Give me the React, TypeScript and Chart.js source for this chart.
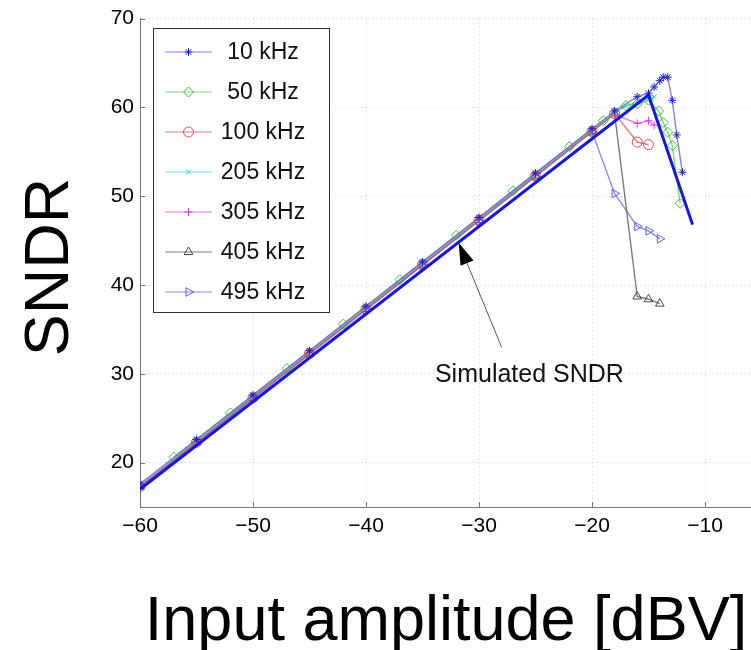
import React, { useEffect, useRef } from 'react';
import { Chart, registerables } from 'chart.js';
import { drawPoint } from 'chart.js/helpers';

Chart.register(...registerables);

// ---- axes ----
const X_TICKS = [-60, -50, -40, -30, -20, -10];
const Y_TICKS = [20, 30, 40, 50, 60, 70];
const X_MIN = -60;
const X_MAX = -5.93;
const Y_MIN = 15;
const Y_MAX = 70;

// ---- measured series ----
const LABELS = ['10 kHz', '50 kHz', '100 kHz', '205 kHz', '305 kHz', '405 kHz', '495 kHz'];

const F10_X = [-60, -55, -50, -45, -40, -35, -30, -25, -20, -18, -16, -15, -14.5, -14, -13.7, -13.3, -12.9, -12.5, -12];
const F10_Y = [17.6, 22.6, 27.6, 32.6, 37.6, 42.6, 47.6, 52.6, 57.6, 59.6, 61.2, 61.6, 62.3, 63.0, 63.4, 63.4, 60.8, 56.9, 52.7];

const F50_X = [-57, -52, -47, -42, -37, -32, -27, -22, -19, -17, -16, -15, -14.1, -13.7, -13.3, -12.9, -12.2];
const F50_Y = [20.6, 25.6, 30.6, 35.6, 40.6, 45.6, 50.6, 55.6, 58.5, 60.2, 60.4, 60.8, 59.6, 58.3, 57.2, 55.7, 49.2];

const F100_X = [-60, -55, -50, -45, -40, -35, -30, -25, -20, -18, -16, -15];
const F100_Y = [17.3, 22.3, 27.3, 32.3, 37.3, 42.3, 47.3, 52.3, 57.3, 59.3, 56.1, 55.8];

const F205_X = [-60, -55, -50, -45, -40, -35, -30, -25, -20, -18, -17, -16, -15, -14.5];
const F205_Y = [17.4, 22.4, 27.4, 32.4, 37.4, 42.4, 47.4, 52.4, 57.4, 59.4, 60.2, 60.6, 61.0, 61.2];

const F305_X = [-60, -55, -50, -45, -40, -35, -30, -25, -20, -18, -16, -15, -14.5];
const F305_Y = [17.4, 22.4, 27.4, 32.4, 37.4, 42.4, 47.4, 52.4, 57.4, 59.2, 58.2, 58.5, 58.0];

const F405_X = [-60, -55, -50, -45, -40, -35, -30, -25, -20, -18, -16, -15, -14];
const F405_Y = [17.3, 22.3, 27.3, 32.3, 37.3, 42.3, 47.3, 52.3, 57.3, 59.3, 38.7, 38.4, 37.9];

const F495_X = [-60, -55, -50, -45, -40, -35, -30, -25, -20, -18, -16, -15, -14];
const F495_Y = [17.2, 22.2, 27.2, 32.2, 37.2, 42.2, 47.2, 52.2, 57.25, 50.3, 46.6, 46.1, 45.2];

// ---- simulated SNDR ----
const SIM_X = [-60, -15, -11.1];
const SIM_Y = [17.0, 61.4, 46.8];

// ---- annotation (data coordinates) ----
const ANNOT_TEXT = 'Simulated SNDR';
const ARROW_TIP = [-31.8, 44.75];
const ARROW_TAIL = [-28.0, 33.0];
const ANNOT_POS = [-33.9, 29.1];

const X_TITLE = 'Input amplitude [dBV]';
const Y_TITLE = 'SNDR';

const FONT = '"Liberation Sans", Arial, Helvetica, sans-serif';

const pts = (xs: number[], ys: number[]) => xs.map((x, i) => ({ x, y: ys[i] }));

const legendAndTitles = {
  id: 'legendAndTitles',
  afterDatasetsDraw(chart: any) {
    const ctx = chart.ctx as CanvasRenderingContext2D;
    const xs = chart.scales.x;
    const ys = chart.scales.y;
    const area = chart.chartArea;
    ctx.save();

    // inward ticks (MATLAB style)
    ctx.strokeStyle = '#777';
    ctx.lineWidth = 1;
    ctx.beginPath();
    X_TICKS.forEach((v) => {
      const px = Math.round(xs.getPixelForValue(v)) + 0.5;
      ctx.moveTo(px, area.bottom);
      ctx.lineTo(px, area.bottom - 5);
    });
    Y_TICKS.forEach((v) => {
      const py = Math.round(ys.getPixelForValue(v)) + 0.5;
      ctx.moveTo(area.left, py);
      ctx.lineTo(area.left + 5, py);
    });
    ctx.stroke();

    // annotation arrow
    const tip = { x: xs.getPixelForValue(ARROW_TIP[0]), y: ys.getPixelForValue(ARROW_TIP[1]) };
    const tail = { x: xs.getPixelForValue(ARROW_TAIL[0]), y: ys.getPixelForValue(ARROW_TAIL[1]) };
    const ang = Math.atan2(tip.y - tail.y, tip.x - tail.x);
    const headLen = 22;
    const headHalf = 7;
    const bx = tip.x - headLen * Math.cos(ang);
    const by = tip.y - headLen * Math.sin(ang);
    ctx.strokeStyle = '#555';
    ctx.lineWidth = 1;
    ctx.beginPath();
    ctx.moveTo(tail.x, tail.y);
    ctx.lineTo(bx, by);
    ctx.stroke();
    ctx.fillStyle = '#000';
    ctx.beginPath();
    ctx.moveTo(tip.x, tip.y);
    ctx.lineTo(bx + headHalf * Math.sin(ang), by - headHalf * Math.cos(ang));
    ctx.lineTo(bx - headHalf * Math.sin(ang), by + headHalf * Math.cos(ang));
    ctx.closePath();
    ctx.fill();

    ctx.font = '25px ' + FONT;
    ctx.textAlign = 'left';
    ctx.textBaseline = 'alphabetic';
    ctx.fillStyle = '#111';
    ctx.fillText(ANNOT_TEXT, xs.getPixelForValue(ANNOT_POS[0]), ys.getPixelForValue(ANNOT_POS[1]));

    // legend box
    const lx = 153.5, ly = 28.5, lw = 176, lh = 284;
    ctx.fillStyle = '#fff';
    ctx.fillRect(lx, ly, lw, lh);
    ctx.strokeStyle = '#333';
    ctx.lineWidth = 1;
    ctx.strokeRect(lx, ly, lw, lh);
    ctx.font = '23px ' + FONT;
    ctx.textAlign = 'center';
    ctx.textBaseline = 'middle';
    let row = 0;
    chart.data.datasets.forEach((ds: any) => {
      if (ds.hideInLegend) return;
      const yy = 52 + row * 40;
      ctx.strokeStyle = ds.borderColor;
      ctx.lineWidth = 1;
      ctx.beginPath();
      ctx.moveTo(165, yy);
      ctx.lineTo(212, yy);
      ctx.stroke();
      ctx.strokeStyle = ds.pointBorderColor;
      ctx.fillStyle = ds.pointBackgroundColor;
      ctx.lineWidth = ds.pointBorderWidth;
      drawPoint(ctx, {
        pointStyle: ds.pointStyle,
        rotation: ds.pointRotation || 0,
        radius: ds.pointRadius,
        borderWidth: ds.pointBorderWidth,
      } as any, 188.5, yy);
      ctx.fillStyle = '#111';
      ctx.fillText(ds.label, 263, yy + 1);
      row++;
    });

    // axis titles
    ctx.fillStyle = '#000';
    ctx.font = '63px ' + FONT;
    ctx.textAlign = 'center';
    ctx.textBaseline = 'alphabetic';
    ctx.fillText(X_TITLE, 446, 640);
    ctx.save();
    ctx.translate(68, 267);
    ctx.rotate(-Math.PI / 2);
    ctx.fillText(Y_TITLE, 0, 0);
    ctx.restore();

    ctx.restore();
  },
};

function mk(label: string, xs: number[], ys: number[], line: string, mark: string, style: string, radius: number, rotation = 0) {
  return {
    label,
    data: pts(xs, ys),
    borderColor: line,
    borderWidth: 1.4,
    pointStyle: style,
    pointRadius: radius,
    pointRotation: rotation,
    pointBorderColor: mark,
    pointBackgroundColor: 'rgba(255,255,255,0)',
    pointBorderWidth: 1,
    tension: 0,
    order: 1,
  };
}

export default function App() {
  const ref = useRef<HTMLCanvasElement>(null);
  useEffect(() => {
    if (!ref.current) return;
    const datasets: any[] = [
      {
        label: ANNOT_TEXT,
        data: pts(SIM_X, SIM_Y),
        borderColor: '#1818d8',
        borderWidth: 3,
        pointRadius: 0,
        tension: 0,
        hideInLegend: true,
        order: 0,
      },
      mk(LABELS[0], F10_X, F10_Y, 'rgba(90,90,235,0.75)', '#2020c8', 'star', 4),
      mk(LABELS[1], F50_X, F50_Y, 'rgba(70,200,70,0.7)', 'rgba(40,190,40,0.9)', 'rectRot', 5),
      mk(LABELS[2], F100_X, F100_Y, 'rgba(230,90,90,0.8)', 'rgba(225,60,60,0.9)', 'circle', 5),
      mk(LABELS[3], F205_X, F205_Y, 'rgba(60,215,215,0.75)', 'rgba(40,200,200,0.9)', 'crossRot', 3.5),
      mk(LABELS[4], F305_X, F305_Y, 'rgba(230,70,230,0.75)', 'rgba(220,50,220,0.9)', 'cross', 4),
      mk(LABELS[5], F405_X, F405_Y, 'rgba(90,90,90,0.8)', 'rgba(60,60,60,0.9)', 'triangle', 5),
      mk(LABELS[6], F495_X, F495_Y, 'rgba(100,100,240,0.75)', 'rgba(80,80,235,0.9)', 'triangle', 5, 90),
    ];
    const chart = new Chart(ref.current, {
      type: 'line',
      data: { datasets },
      options: {
        responsive: false,
        animation: false,
        layout: { autoPadding: false, padding: { top: 16, right: 0, left: 0, bottom: 0 } },
        plugins: { legend: { display: false }, tooltip: { enabled: false } },
        scales: {
          x: {
            type: 'linear',
            min: X_MIN,
            max: X_MAX,
            afterBuildTicks: (s: any) => { s.ticks = X_TICKS.map((v) => ({ value: v })); },
            afterFit: (s: any) => { s.height = 143; s.paddingRight = 0; s.paddingLeft = 0; },
            ticks: {
              padding: 7,
              color: '#000',
              font: { family: FONT, size: 21 },
              callback: (v: any) => (v < 0 ? '\u2212' + Math.abs(v) : String(v)),
            },
            grid: { color: '#cfcfcf', drawTicks: false, lineWidth: 1 },
            border: { color: '#777', width: 1, dash: [1, 3] },
          },
          y: {
            type: 'linear',
            min: Y_MIN,
            max: Y_MAX,
            afterBuildTicks: (s: any) => { s.ticks = Y_TICKS.map((v) => ({ value: v })); },
            afterFit: (s: any) => { s.width = 140; },
            ticks: {
              padding: 6,
              color: '#000',
              font: { family: FONT, size: 21 },
            },
            grid: { color: '#cfcfcf', drawTicks: false, lineWidth: 1 },
            border: { color: '#777', width: 1, dash: [1, 3] },
          },
        },
      },
      plugins: [legendAndTitles],
    });
    return () => chart.destroy();
  }, []);
  return (
    <div style={{ position: 'absolute', left: 0, top: 0, width: 751, height: 650, background: '#fff' }}>
      <canvas ref={ref} width={751} height={650} style={{ display: 'block', width: 751, height: 650 }} />
    </div>
  );
}
